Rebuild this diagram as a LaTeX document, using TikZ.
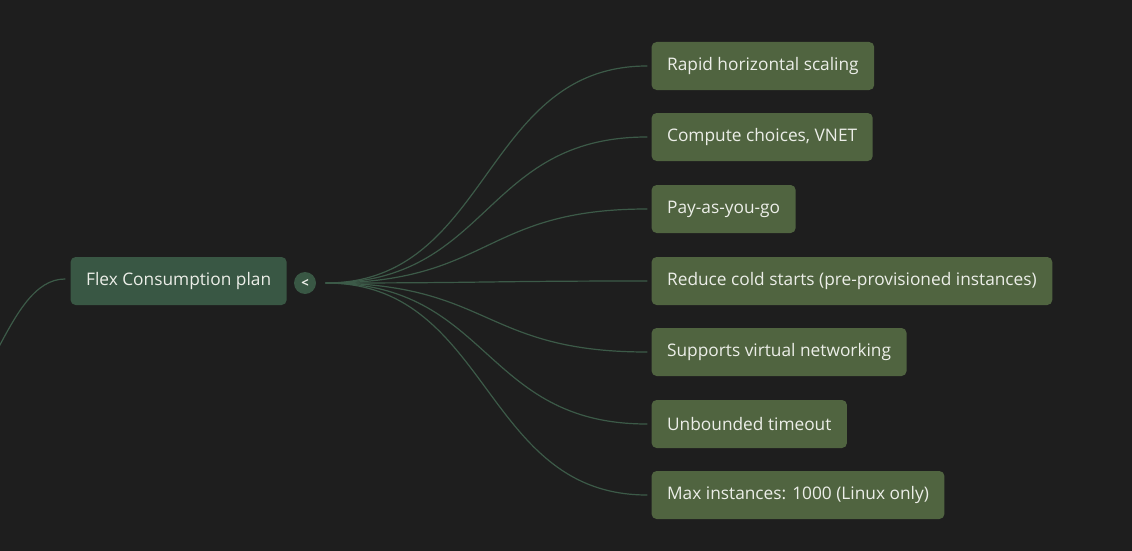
\documentclass[tikz,border=0pt]{standalone}
\usepackage{fontspec}
\setmainfont{Open Sans}
\usepackage{tikz}
\definecolor{canvas}{RGB}{30, 30, 30}
\definecolor{rootgreen}{RGB}{57, 87, 68}
\definecolor{leafgreen}{RGB}{80, 100, 64}
\definecolor{linkgreen}{RGB}{60, 90, 72}
\definecolor{label}{RGB}{236, 238, 232}
\def\leafx{651}
\def\hubx{326}
\def\huby{283}
\def\bend{165}

\begin{document}
\begin{tikzpicture}[x=1pt, y=-1pt, line width=1.2pt, line cap=round,
    topic/.style={rectangle, rounded corners=5pt, anchor=west, minimum height=48pt,
        inner xsep=15.5pt, inner ysep=0pt, text=label, font=\fontsize{17.3}{20}\selectfont},
    rootbox/.style={topic, fill=rootgreen},
    leafbox/.style={topic, fill=leafgreen},
    link/.style={draw=linkgreen}]

    \useasboundingbox[fill=canvas] (0, 0) rectangle (1132, 551);

    \node[rootbox] (flex) at (70, 281) {Flex Consumption plan};
    \node[circle, fill=rootgreen, minimum size=22pt, inner sep=0pt, text=label,
        font=\bfseries\fontsize{13}{13}\selectfont] (fold) at (305, 283) {<};
    \coordinate (hub) at (\hubx, \huby);
    \coordinate (parent) at (-70, 420);

    \node[leafbox] (rapid) at (\leafx, 66) {Rapid horizontal scaling};
    \node[leafbox] (compute) at (\leafx, 137) {Compute choices, VNET};
    \node[leafbox] (payg) at (\leafx, 209) {Pay-as-you-go};
    \node[leafbox] (cold) at (\leafx, 281) {Reduce cold starts (pre-provisioned instances)};
    \node[leafbox] (vnet) at (\leafx, 352) {Supports virtual networking};
    \node[leafbox] (timeout) at (\leafx, 424) {Unbounded timeout};
    \node[leafbox] (maxinst) at (\leafx, 495) {Max instances: 1000 (Linux only)};

    \draw[link] (parent) .. controls +(60, 0) and +(-60, 0) .. ([xshift=-5pt, yshift=2pt]flex.west);

    \foreach \leaf in {rapid, compute, payg, cold, vnet, timeout, maxinst}
        \draw[link] (hub) .. controls +(\bend, 0) and +(-\bend, 0) .. ([xshift=-4pt]\leaf.west);

\end{tikzpicture}
\end{document}
